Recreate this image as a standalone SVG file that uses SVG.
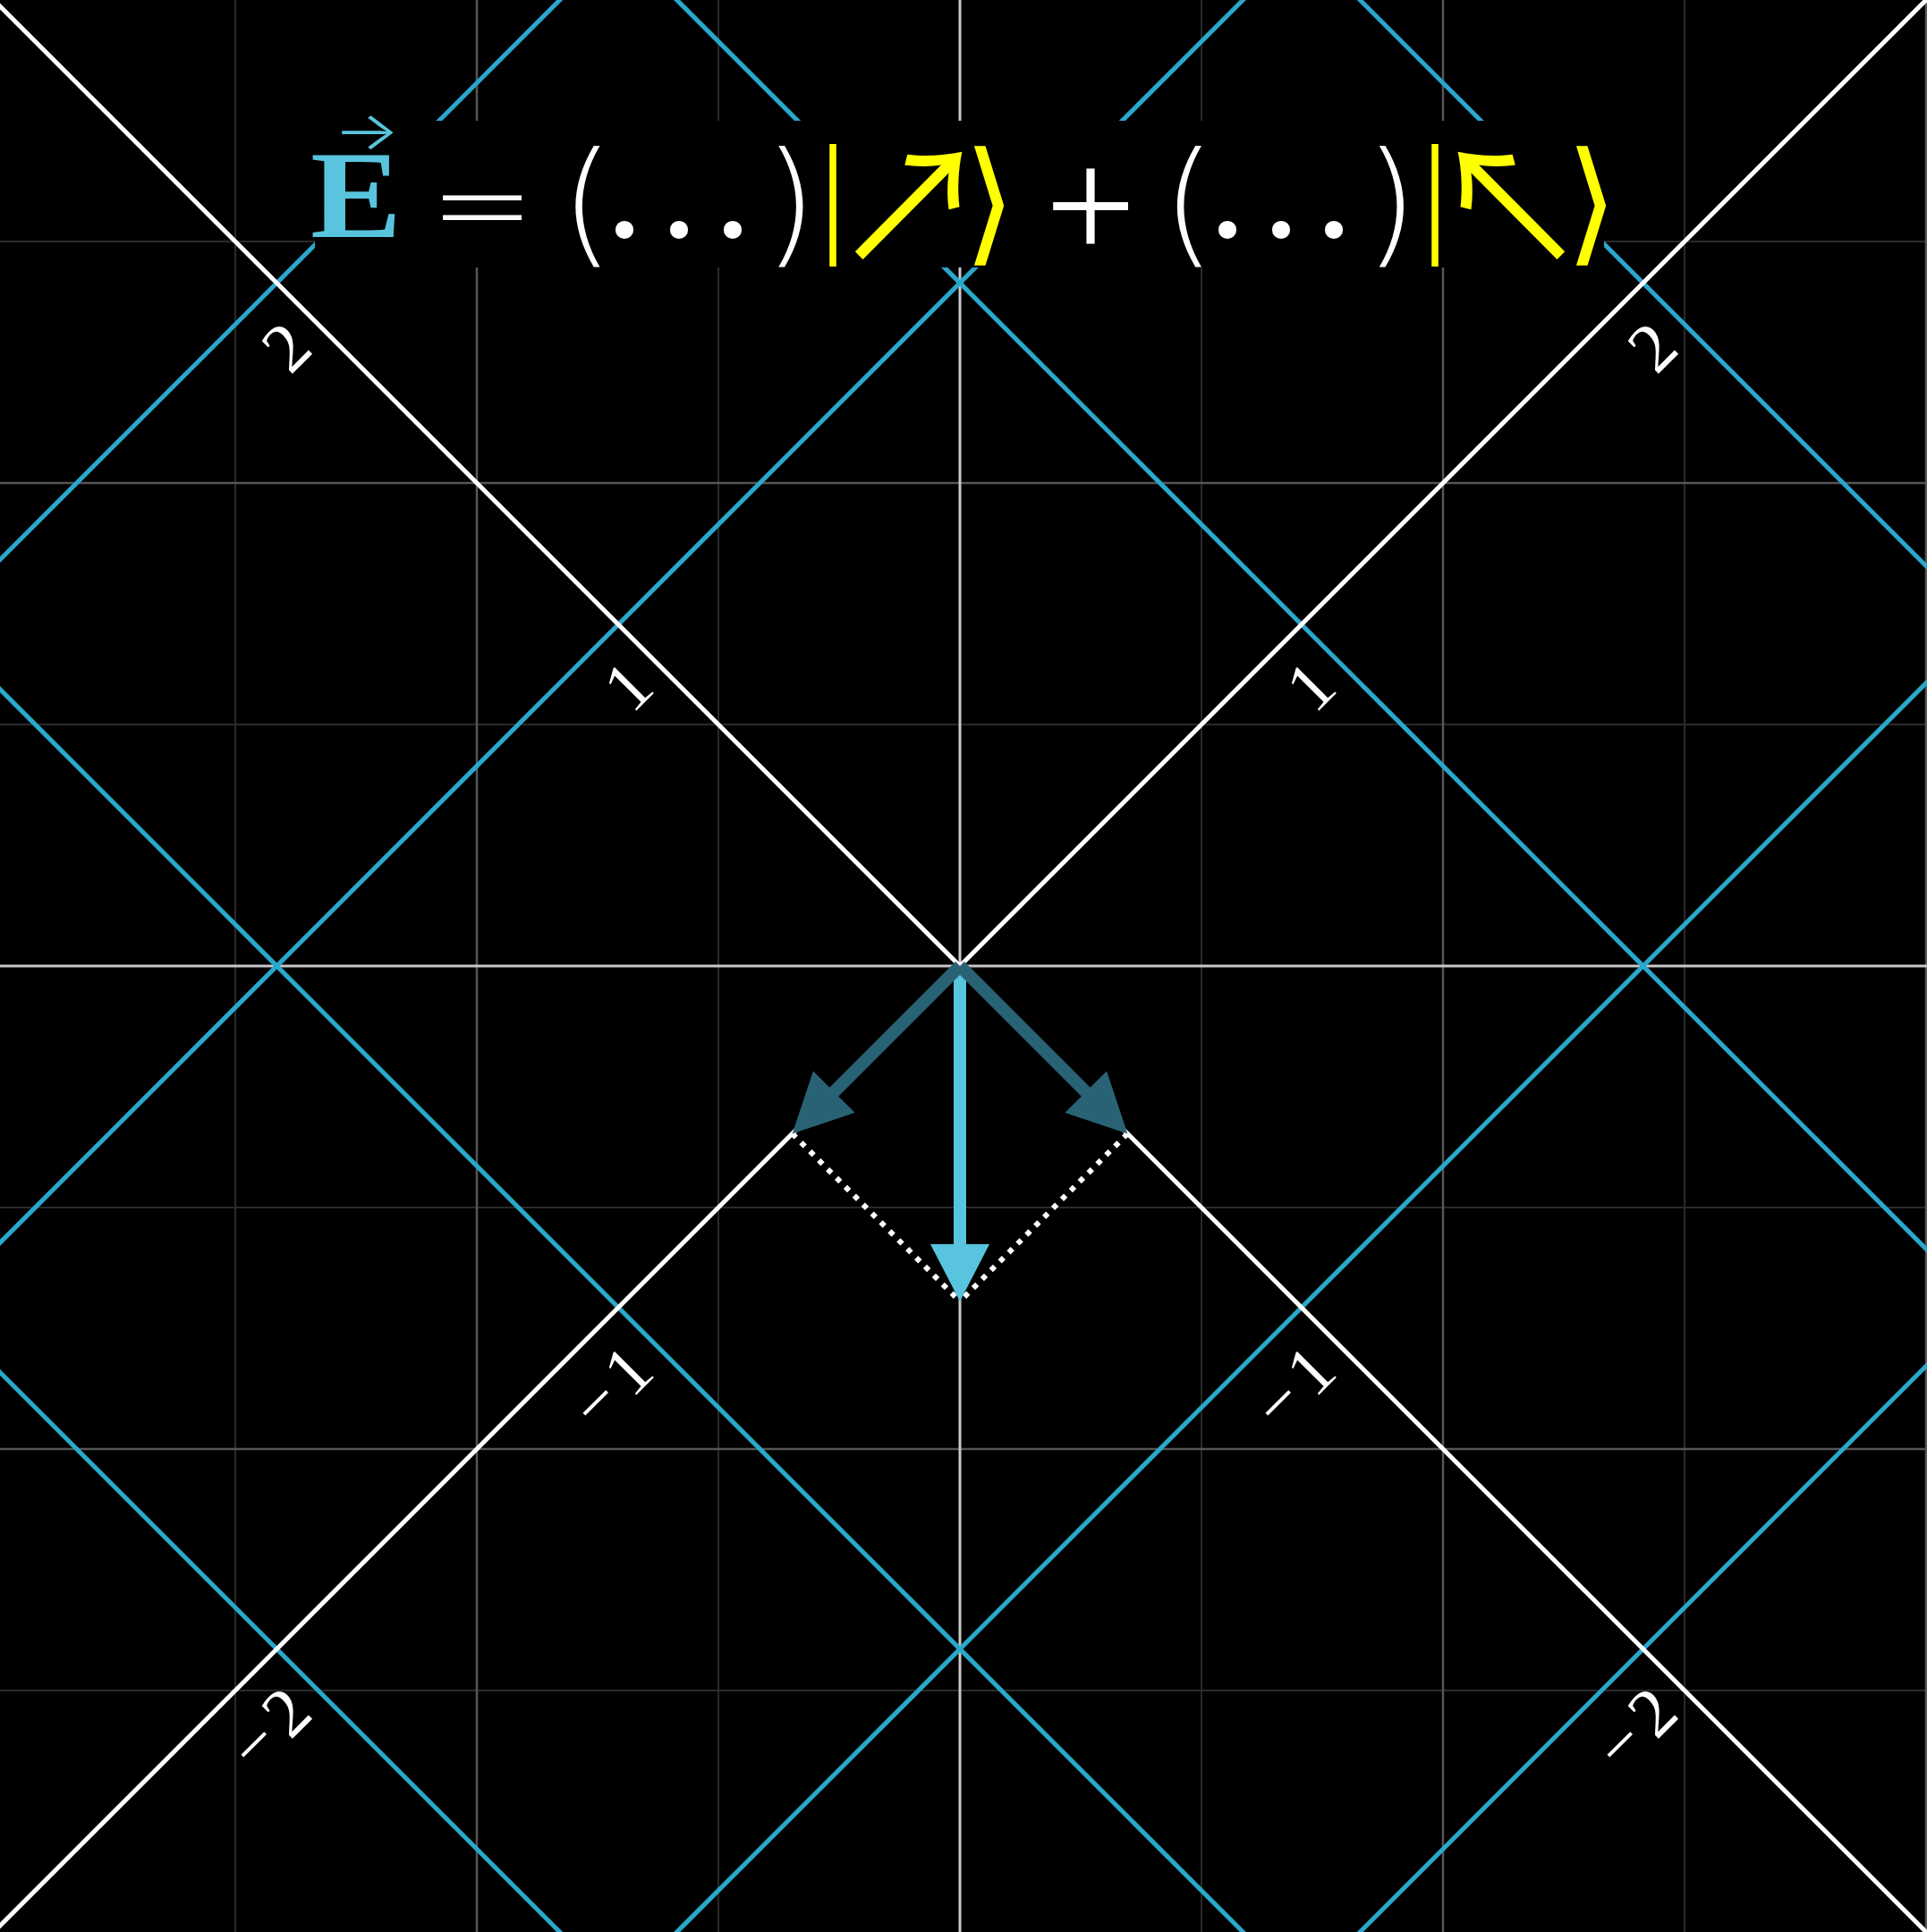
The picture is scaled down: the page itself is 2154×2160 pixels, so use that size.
<svg xmlns="http://www.w3.org/2000/svg" width="2154" height="2160" viewBox="0 0 2154 2160">
<defs>
<style>
.faint{stroke:#2a2a2a;stroke-width:2}
.major{stroke:#565656;stroke-width:2.5}
.axis{stroke:#c9c9c9;stroke-width:3}
.blue{stroke:#29A8CC;stroke-width:5}
.white{stroke:#ffffff;stroke-width:5}
.dot{stroke:#ffffff;stroke-width:6;stroke-dasharray:6 8;fill:none}
.lbl{font-family:"Liberation Serif",serif;font-size:78px;fill:#ffffff}
.eq{font-family:"Liberation Serif",serif;fill:#ffffff}
.par{font-family:"DejaVu Sans",sans-serif;font-weight:200;font-size:152px;fill:#ffffff}
.ket{fill:#FFFF00}
.blu{fill:#58C4DD}
</style>
</defs>
<rect width="2154" height="2160" fill="#000000"/>
<g id="grid">
<line class="faint" x1="263" y1="0" x2="263" y2="2160"/>
<line class="faint" x1="803" y1="0" x2="803" y2="2160"/>
<line class="faint" x1="1343" y1="0" x2="1343" y2="2160"/>
<line class="faint" x1="1883" y1="0" x2="1883" y2="2160"/>
<line class="faint" x1="0" y1="270" x2="2154" y2="270"/>
<line class="faint" x1="0" y1="810" x2="2154" y2="810"/>
<line class="faint" x1="0" y1="1350" x2="2154" y2="1350"/>
<line class="faint" x1="0" y1="1890" x2="2154" y2="1890"/>
<line class="major" x1="533" y1="0" x2="533" y2="2160"/>
<line class="major" x1="1613" y1="0" x2="1613" y2="2160"/>
<line class="major" x1="2153" y1="0" x2="2153" y2="2160"/>
<line class="major" x1="0" y1="540" x2="2154" y2="540"/>
<line class="major" x1="0" y1="1620" x2="2154" y2="1620"/>
<line class="axis" x1="1073" y1="0" x2="1073" y2="2160"/>
<line class="axis" x1="0" y1="1080" x2="2154" y2="1080"/>
</g>
<g id="rotated-grid">
<line class="blue" x1="-100" y1="-856.6" x2="2300" y2="1543.4"/>
<line class="blue" x1="-100" y1="670.6" x2="2300" y2="3070.6"/>
<line class="blue" x1="-100" y1="-1620.3" x2="2300" y2="779.7"/>
<line class="blue" x1="-100" y1="1434.3" x2="2300" y2="3834.3"/>
<line class="blue" x1="-100" y1="3016.6" x2="2300" y2="616.6"/>
<line class="blue" x1="-100" y1="1489.4" x2="2300" y2="-910.6"/>
<line class="blue" x1="-100" y1="3780.3" x2="2300" y2="1380.3"/>
<line class="blue" x1="-100" y1="725.7" x2="2300" y2="-1674.3"/>
</g>
<g id="rotated-axes">
<line class="white" x1="-100" y1="-93" x2="2300" y2="2307"/>
<line class="white" x1="-100" y1="2253" x2="2300" y2="-147"/>
</g>
<g id="labels">
<text class="lbl" transform="translate(320 388) rotate(-45)" x="19.5" y="26" text-anchor="end">2</text>
<text class="lbl" transform="translate(702 767) rotate(-45)" x="19.5" y="26" text-anchor="end">1</text>
<text class="lbl" transform="translate(1847 388) rotate(-45)" x="19.5" y="26" text-anchor="end">2</text>
<text class="lbl" transform="translate(1465 767) rotate(-45)" x="19.5" y="26" text-anchor="end">1</text>
<text class="lbl" transform="translate(702 1532) rotate(-45)" x="19.5" y="26" text-anchor="end">−<tspan dx="10">1</tspan></text>
<text class="lbl" transform="translate(320 1914) rotate(-45)" x="19.5" y="26" text-anchor="end">−<tspan dx="10">2</tspan></text>
<text class="lbl" transform="translate(1465 1532) rotate(-45)" x="19.5" y="26" text-anchor="end">−<tspan dx="10">1</tspan></text>
<text class="lbl" transform="translate(1847 1914) rotate(-45)" x="19.5" y="26" text-anchor="end">−<tspan dx="10">2</tspan></text>
</g>
<g id="equation">
<rect x="352" y="135" width="1441" height="164" fill="#000000"/>
<text class="eq blu" transform="translate(398 265) scale(1.1 1)" font-size="139" font-weight="bold" text-anchor="middle">E</text>
<text class="blu" transform="translate(410 148) scale(1.12 0.85)" y="22" font-family="Inter,'DejaVu Sans',sans-serif" font-weight="300" font-size="70" text-anchor="middle">→</text>
<text class="eq" transform="translate(539 231) scale(1.11 0.65)" y="58.5" font-size="170" text-anchor="middle">=</text>
<text class="par" x="656.5" y="278" text-anchor="middle">(</text>
<text class="eq" x="698 759 819" y="265" font-size="170" text-anchor="middle">...</text>
<text class="par" x="883.5" y="278" text-anchor="middle">)</text>
<text class="eq ket" x="931" y="266" font-size="150" text-anchor="middle">|</text>
<text class="ket" x="1017.5" y="295" font-family="'Noto Sans CJK JP',sans-serif" font-size="176" text-anchor="middle">↗</text>
<text class="ket" x="1106" y="277" font-family="'DejaVu Sans',sans-serif" font-weight="200" font-size="150" text-anchor="middle">⟩</text>
<text class="eq" x="1219" y="290" font-size="180" text-anchor="middle">+</text>
<text class="par" x="1329" y="278" text-anchor="middle">(</text>
<text class="eq" x="1372 1432 1491" y="265" font-size="170" text-anchor="middle">...</text>
<text class="par" x="1555" y="278" text-anchor="middle">)</text>
<text class="eq ket" x="1604" y="266" font-size="150" text-anchor="middle">|</text>
<text class="ket" x="1687.5" y="295" font-family="'Noto Sans CJK JP',sans-serif" font-size="176" text-anchor="middle">↖</text>
<text class="ket" x="1779" y="277" font-family="'DejaVu Sans',sans-serif" font-weight="200" font-size="150" text-anchor="middle">⟩</text>
</g>
<g id="vectors">
<line class="dot" x1="885.6" y1="1267.4" x2="1073" y2="1455"/>
<line class="dot" x1="1260.4" y1="1267.4" x2="1073" y2="1455"/>
<polygon fill="#58C4DD" transform="translate(1073 1080) rotate(90)" points="0,-7 311,-7 311,-33 375,0 311,33 311,7 0,7"/>
<polygon fill="#2A6275" transform="translate(1073 1080) rotate(135)" points="0,-7 199,-7 199,-33 265,0 199,33 199,7 0,7"/>
<polygon fill="#2A6275" transform="translate(1073 1080) rotate(45)" points="0,-7 199,-7 199,-33 265,0 199,33 199,7 0,7"/>
</g>
</svg>
